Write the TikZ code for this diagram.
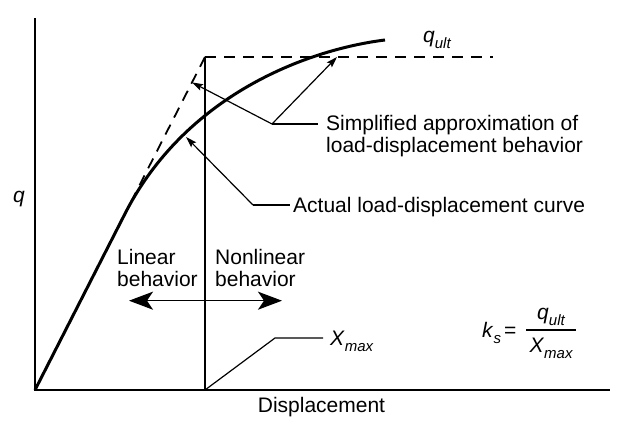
\documentclass[tikz,border=0pt]{standalone}
\usepackage{fontspec}
\setmainfont{Liberation Sans}
\usetikzlibrary{arrows.meta}
\newcommand{\mysub}[1]{\raisebox{-6pt}{\fontsize{15}{15}\selectfont\itshape #1}}
\tikzset{
  axisline/.style={line width=2pt},
  curveline/.style={line width=3pt},
  thinline/.style={line width=1.2pt},
  dsh/.style={line width=1.8pt, dash pattern=on 11pt off 8pt},
  lead/.style={line width=1.2pt, -{Stealth[length=11pt,width=7pt,inset=2pt]}},
  bigarrow/.style={line width=1.5pt, {Stealth[length=24pt,width=18pt,inset=6pt]}-{Stealth[length=24pt,width=18pt,inset=6pt]}},
  lbl/.style={font=\fontsize{21}{21}\selectfont, inner sep=0pt, anchor=base west},
}
\begin{document}
\begin{tikzpicture}[x=1pt,y=1pt]
\useasboundingbox (-35,-40) rectangle (603,390);
% key points
\coordinate (O) at (0,0);
\coordinate (ytop) at (0,372);
\coordinate (xend) at (575,0);
\coordinate (C) at (170,333);
\coordinate (Cb) at (170,0);
\coordinate (dstart) at (80,156.7);
\coordinate (dashend) at (458,333);
\coordinate (P0) at (90,176.3);
\coordinate (P1) at (150,293.8);
\coordinate (P2) at (270,340);
\coordinate (P3) at (350,350);
% axes
\draw[axisline] (ytop) -- (O) -- (xend);
% vertical line at Xmax
\draw[thinline] (Cb) -- (C);
% simplified approximation (dashed)
\draw[dsh] (C) -- (dstart);
\draw[dsh] (C) -- (dashend);
% actual curve
\draw[curveline] (O) -- (P0) .. controls (P1) and (P2) .. (P3);
% labels
\node[lbl] (q) at (-22,187) {\textit{q}};
\node[lbl] (qult) at (388,347) {\textit{q}\mysub{ult}};
\node[lbl, anchor=base] (disp) at (286.5,-23) {Displacement};
% simplified leader
\coordinate (sj) at (237,266);
\coordinate (sh) at (283,266);
\coordinate (sa) at (157,307.6);
\coordinate (sb) at (302,333);
\draw[lead] (sj) -- (sa);
\draw[lead] (sj) -- (sb);
\draw[thinline] (sj) -- (sh);
\node[lbl] (simp) at (291,259) {\begin{tabular}[t]{@{}l@{}}Simplified approximation of\\load-displacement behavior\end{tabular}};
% actual leader
\coordinate (aj) at (218,185);
\coordinate (ah) at (255,185);
\coordinate (at) at (151,253);
\draw[lead] (aj) -- (at);
\draw[thinline] (aj) -- (ah);
\node[lbl] (act) at (258,177.5) {Actual load-displacement curve};
% linear / nonlinear
\node[lbl] (lin) at (82,125) {\begin{tabular}[t]{@{}l@{}}Linear\\behavior\end{tabular}};
\node[lbl] (nonlin) at (180,125) {\begin{tabular}[t]{@{}l@{}}Nonlinear\\behavior\end{tabular}};
\coordinate (bl) at (94,89.3);
\coordinate (br) at (247,89.3);
\draw[bigarrow] (bl) -- (br);
% Xmax leader
\coordinate (xj) at (240,52);
\coordinate (xh) at (288,52);
\draw[thinline] (Cb) -- (xj) -- (xh);
\node[lbl] (xmax) at (295,44) {\textit{X}\mysub{max}};
% formula
\node[lbl] (ks) at (447,52) {\textit{k}\mysub{s}};
\node[lbl] (eq) at (469,52) {=};
\coordinate (fb1) at (491,60);
\coordinate (fb2) at (541,60);
\draw[thinline] (fb1) -- (fb2);
\node[lbl, anchor=base] (num) at (516,70) {\textit{q}\mysub{ult}};
\node[lbl, anchor=base] (den) at (516,37) {\textit{X}\mysub{max}};
\end{tikzpicture}
\end{document}
